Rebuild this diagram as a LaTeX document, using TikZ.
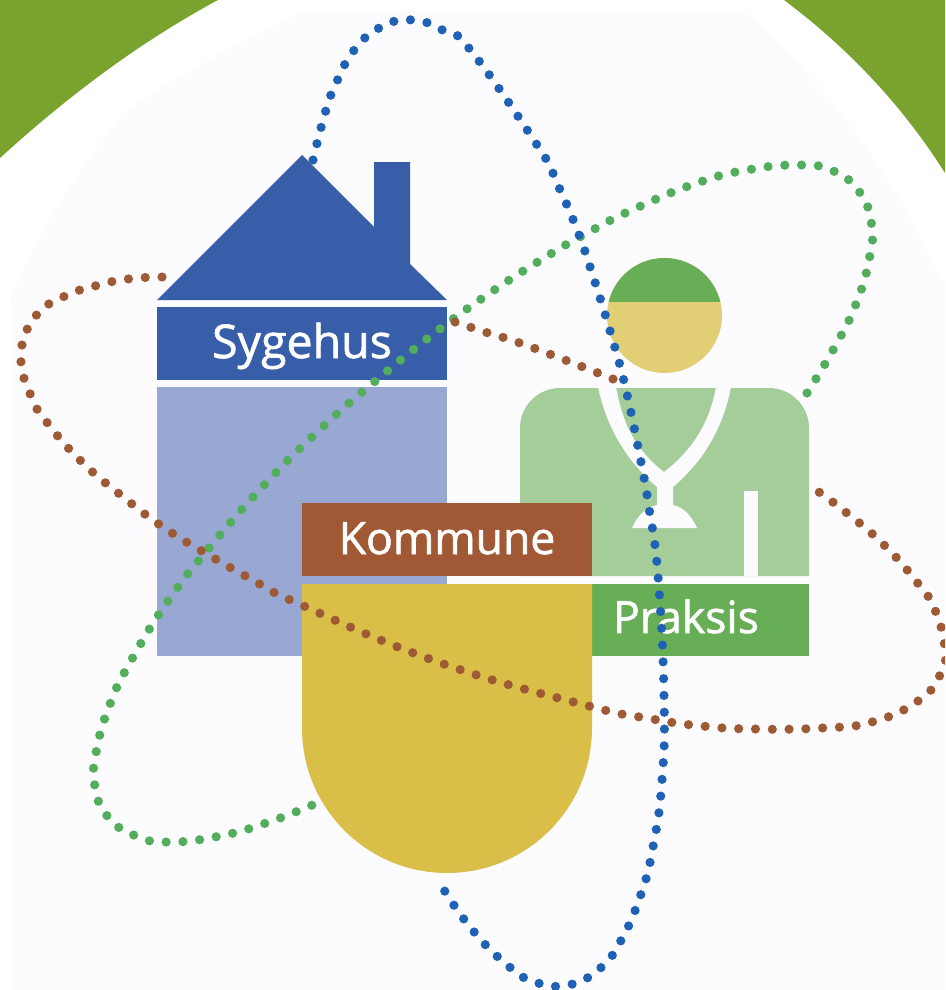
\documentclass[tikz,border=0pt]{standalone}
\usepackage{fontspec}
\setmainfont{Open Sans}
\newfontfamily\labfont[FakeBold=1.4]{Open Sans}
\definecolor{leaf}{HTML}{7AA22F}
\definecolor{faint}{HTML}{FCFCFE}
\definecolor{hblue}{HTML}{385EA9}
\definecolor{hlilac}{HTML}{99A7D3}
\definecolor{kbrown}{HTML}{A15935}
\definecolor{kyellow}{HTML}{D9BF48}
\definecolor{plight}{HTML}{A5CD9A}
\definecolor{pgreen}{HTML}{67AE57}
\definecolor{hyellow}{HTML}{E2CF75}
\definecolor{dblue}{HTML}{1F62B5}
\definecolor{dgreen}{HTML}{52AE5C}
\definecolor{dbrown}{HTML}{9E5A35}
\tikzset{
  dotline/.style={line width=9.2pt,line cap=round,dash pattern=on 0pt off 16.8pt,draw=#1},
  label/.style={text=white,font=\labfont\fontsize{#1}{#1}\selectfont,inner sep=0pt,anchor=base}
}
\begin{document}
\begin{tikzpicture}[x=1pt,y=-1pt]
\useasboundingbox (0,0) rectangle (945,990);
\clip (0,0) rectangle (945,990);
\fill[white] (0,0) rectangle (945,990);
% green corners
\fill[leaf] (0,0) -- (0,158) .. controls (68,96) and (140,42) .. (218,0) -- cycle;
\fill[leaf] (945,0) -- (784,0) .. controls (848,48) and (902,105) .. (945,173) -- cycle;
% faint backdrop
\fill[faint] (10,990) -- (10,300) .. controls (40,225) and (85,160) .. (127,110) .. controls (180,75) and (250,35) .. (310,10) -- (743,10) .. controls (800,60) and (860,130) .. (900,200) -- (945,285) -- (945,990) -- cycle;
% house
\fill[hblue] (157,300) -- (302,155) -- (374,227) -- (374,162) -- (410,162) -- (410,264) -- (447,300) -- cycle;
\fill[hblue] (157,307) rectangle (447,380);
\fill[hlilac] (157,387) rectangle (447,656);
% person
\fill[plight] (520,576) -- (520,428) .. controls (520,406) and (538,388) .. (560,388) -- (769,388) .. controls (791,388) and (809,406) .. (809,428) -- (809,576) -- cycle;
\fill[faint] (598,387) .. controls (606,425) and (625,460) .. (657,487) -- (657,505) .. controls (645,507) and (637,517) .. (632,528) -- (697,528) .. controls (692,517) and (684,507) .. (673,505) -- (673,487) .. controls (705,460) and (724,425) .. (731,387) -- (716,387) .. controls (710,420) and (695,448) .. (664,472) .. controls (633,448) and (622,420) .. (616,387) -- cycle;
\fill[faint] (744,491) rectangle (758,576);
\fill[hyellow] (664.5,315.5) circle[radius=57.5];
\begin{scope}
  \clip (600,250) rectangle (730,301);
  \fill[pgreen] (664.5,315.5) circle[radius=57.5];
\end{scope}
\fill[pgreen] (592,584) rectangle (809,656);
% municipality
\fill[kbrown] (302,503) rectangle (592,576);
\fill[kyellow] (302,584) -- (592,584) -- (592,728) arc[start angle=0,end angle=180,radius=145] -- cycle;
% labels
\node[label=46.5] (sygehus) at (302,358) {Sygehus};
\node[label=44.5] (kommune) at (447,554) {Kommune};
\node[label=44.5] (praksis) at (686,633) {Praksis};
% dotted orbits
\draw[dotline=dgreen] plot[smooth,tension=0.8] coordinates {(807,393) (833,350) (856,304) (870,255) (871,221) (858,190) (831,170) (797,165) (747,170) (697,183) (634,209) (589,232) (544,258) (487,295) (432,335) (379,378) (327,423) (266,483) (210,547) (168,601) (132,659) (110,704) (96,753) (95,787) (108,817) (136,836) (169,842) (220,836) (269,822) (317,803)};
\draw[dotline=dbrown] plot[smooth,tension=0.8] coordinates {(162,277) (128,279) (95,286) (63,297) (35,317) (21,355) (31,396) (49,425) (83,463) (122,496) (163,527) (207,554) (251,579) (297,603) (438,662) (585,705) (652,719) (702,726) (753,729) (822,728) (872,722) (918,701) (940,675) (945,650) (935,610) (916,581) (882,543) (843,510) (816,490)};
\draw[dotline=dbrown] plot[smooth,tension=0.8] coordinates {(613,379) (565,360) (517,342) (485,332) (452,321)};
\draw[dotline=dblue] plot[smooth,tension=0.8] coordinates {(313,160) (326,110) (338,79) (355,49) (381,27) (413,20) (446,32) (472,52) (541,151) (556,181) (576,227) (593,276) (613,341) (626,390) (640,457) (649,508) (658,576) (664,695) (662,780) (653,847) (640,897) (619,944) (598,970) (568,985) (535,982) (506,964) (470,927) (441,885)};
\end{tikzpicture}
\end{document}
